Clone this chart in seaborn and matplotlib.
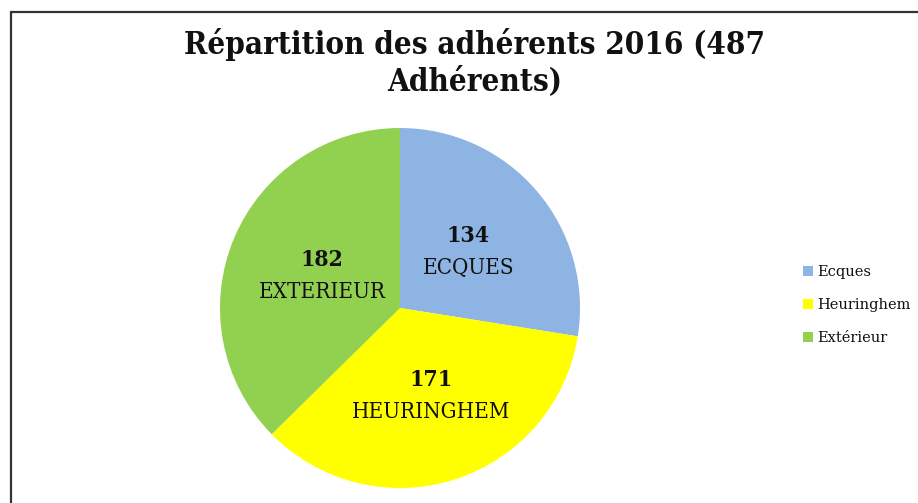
import matplotlib
matplotlib.use("Agg")
import matplotlib.pyplot as plt
import seaborn as sns
from matplotlib.patches import Rectangle

# Données
categories = ["Ecques", "Heuringhem", "Extérieur"]
labels_upper = ["ECQUES", "HEURINGHEM", "EXTERIEUR"]
adherents = [134, 171, 182]
colors = ["#8DB4E2", "#FFFF00", "#92D050"]
title = "Répartition des adhérents 2016 (487\nAdhérents)"

sns.set_theme(style="white")
plt.rcParams["font.family"] = ["DejaVu Serif"]

W, H = 918, 503
fig = plt.figure(figsize=(W / 100, H / 100), dpi=100)
fig.patch.set_facecolor("white")

# Pie centre (400, 308), rayon 180 px
ax = fig.add_axes([220 / W, (H - 488) / H, 360 / W, 360 / H])
wedges, _ = ax.pie(adherents, colors=colors, startangle=90, counterclock=False,
                   radius=1.0, wedgeprops=dict(linewidth=0))
ax.set_xlim(-1, 1)
ax.set_ylim(-1, 1)
ax.set_aspect("equal")
ax.axis("off")

# Etiquettes dans les parts
label_pos = [(0.38, 0.31), (0.17, -0.49), (-0.433, 0.178)]
for (x, y), n, lab in zip(label_pos, adherents, labels_upper):
    ax.text(x, y + 0.09, str(n), ha="center", va="center", fontsize=16.5,
            fontweight="bold", color="#111111", fontstretch="condensed")
    ax.text(x, y - 0.09, lab, ha="center", va="center", fontsize=16,
            color="#111111", fontstretch="condensed")

# Titre
fig.text(0.517, 0.875, title, ha="center", va="center", fontsize=22.5,
         fontweight="bold", linespacing=1.2, fontstretch="condensed",
         color="#111111")

# Légende
leg = fig.legend(wedges, categories, loc="center left",
                 bbox_to_anchor=(790 / W, 1 - 305 / H), frameon=False,
                 fontsize=10.5, handlelength=0.7, handleheight=0.7,
                 handletextpad=0.3, labelspacing=1.3)
for t in leg.get_texts():
    t.set_color("#111111")

# Cadre
fig.patches.append(Rectangle((11 / W, -0.1), 1.2, 1 - 12 / H + 0.1,
                             transform=fig.transFigure, fill=False,
                             edgecolor="#333333", linewidth=1.6,
                             clip_on=False))

fig.savefig("out.png", dpi=100, facecolor="white")
